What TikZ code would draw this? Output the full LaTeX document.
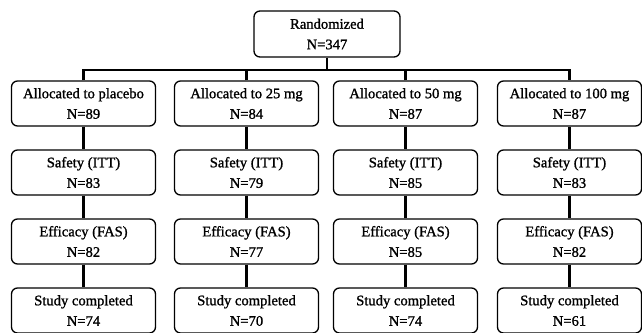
\documentclass[tikz,border=0pt]{standalone}
\usepackage{fontspec}
\setmainfont{Liberation Serif}[BoldFont={Liberation Serif}, BoldFeatures={FakeBold=1.2}]
\begin{document}
\begin{tikzpicture}[x=1pt,y=-1pt,
  flowbox/.style={draw=black, line width=1.3pt, rounded corners=6pt,
    minimum width=144pt, minimum height=45pt, align=center, inner sep=0pt,
    font=\fontsize{14.6}{20.5}\selectfont\bfseries},
  conn/.style={draw=black, line width=2.6pt}]
\useasboundingbox (0,0) rectangle (642,332);
\node[flowbox, minimum width=146pt, minimum height=46pt] (top) at (327,34) {Randomized\\N=347};
\foreach \name/\xx/\lbl/\na/\nb/\nc/\nd in {p/83.5/placebo/89/83/82/74, b/246.5/25 mg/84/79/77/70, c/405.5/50 mg/87/85/85/74, d/569.5/100 mg/87/83/82/61}{
  \node[flowbox] (\name1) at (\xx,103.5) {Allocated to \lbl\\N=\na};
  \node[flowbox] (\name2) at (\xx,172.5) {Safety (ITT)\\N=\nb};
  \node[flowbox] (\name3) at (\xx,241.5) {Efficacy (FAS)\\N=\nc};
  \node[flowbox] (\name4) at (\xx,310.5) {Study completed\\N=\nd};
  \draw[conn] (\name1) -- (\name2);
  \draw[conn] (\name2) -- (\name3);
  \draw[conn] (\name3) -- (\name4);
}
\coordinate (bus) at (327,70);
\draw[conn] (top.south) -- (bus);
\draw[conn] (p1.north) |- (bus) -| (d1.north);
\draw[conn] (b1.north) -- (b1.north |- bus);
\draw[conn] (c1.north) -- (c1.north |- bus);
\end{tikzpicture}
\end{document}
